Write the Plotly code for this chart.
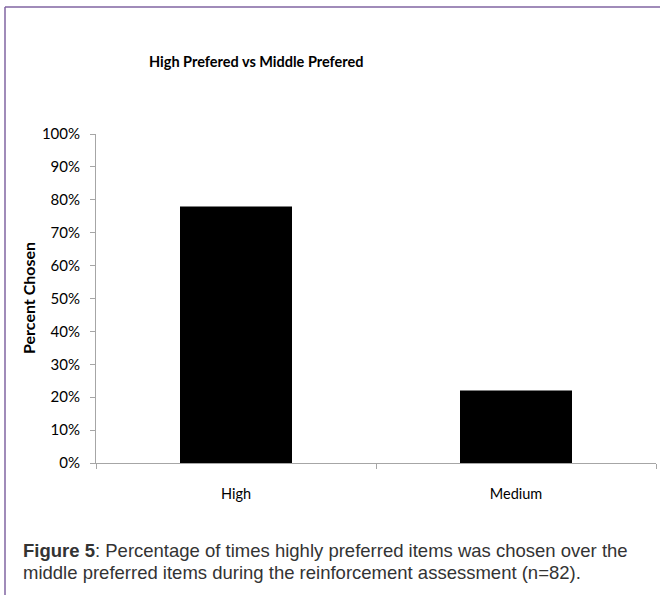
import plotly.graph_objects as go

# Chart data
categories = ["High", "Medium"]
percent_chosen = [0.78, 0.22]
y_tick_values = [0.0, 0.1, 0.2, 0.3, 0.4, 0.5, 0.6, 0.7, 0.8, 0.9, 1.0]
y_tick_labels = ["0%", "10%", "20%", "30%", "40%", "50%", "60%", "70%", "80%", "90%", "100%"]
caption_lines = [
    "<b>Figure 5</b>: Percentage of times highly preferred items was chosen over the",
    "middle preferred items during the reinforcement assessment (n=82).",
]

W, H = 660, 595
L, R, T, B = 96, 4, 134, 132
plot_w = W - L - R
plot_h = H - T - B


def px_x(px):
    """Convert a pixel column to paper x coordinate."""
    return (px - L) / plot_w


def px_y(py):
    """Convert a pixel row (from top) to paper y coordinate."""
    return (H - B - py) / plot_h


axis_grey = "#a6a6a6"
calibri_like = "Lato, 'Open Sans', sans-serif"

fig = go.Figure(
    go.Bar(
        x=categories,
        y=percent_chosen,
        marker=dict(color="black", line=dict(width=0)),
        width=0.4,
        hoverinfo="x+y",
    )
)

fig.update_layout(
    width=W,
    height=H,
    margin=dict(l=L, r=R, t=T, b=B),
    paper_bgcolor="white",
    plot_bgcolor="white",
    showlegend=False,
    font=dict(family=calibri_like, size=14, color="black"),
    xaxis=dict(
        type="category",
        showline=True,
        linecolor=axis_grey,
        linewidth=1,
        ticks="outside",
        tickson="boundaries",
        ticklen=5,
        tickcolor=axis_grey,
        showgrid=False,
        tickfont=dict(family=calibri_like, size=14.5, color="black"),
        ticklabelstandoff=18,
        range=[-0.5, 1.5],
    ),
    yaxis=dict(
        range=[0, 1],
        tickvals=y_tick_values,
        ticktext=y_tick_labels,
        showline=True,
        linecolor=axis_grey,
        linewidth=1,
        ticks="outside",
        ticklen=5,
        tickcolor=axis_grey,
        showgrid=False,
        zeroline=False,
        tickfont=dict(family=calibri_like, size=15, color="black"),
        ticklabelstandoff=7,
    ),
)

# Vertical axis title
fig.add_annotation(
    text="<b>Percent Chosen</b>",
    xref="paper", yref="paper",
    x=px_x(28), y=px_y(298),
    xanchor="center", yanchor="middle",
    textangle=-90,
    showarrow=False,
    font=dict(family=calibri_like, size=16, color="black"),
)

# Chart title
fig.add_annotation(
    text="<b>High Prefered vs Middle Prefered</b>",
    xref="paper", yref="paper",
    x=px_x(256), y=px_y(61),
    xanchor="center", yanchor="middle",
    showarrow=False,
    font=dict(family=calibri_like, size=14.5, color="black"),
)

# Figure caption, one annotation per line
for row, line_text in zip([550, 572], caption_lines):
    fig.add_annotation(
        text=line_text,
        xref="paper", yref="paper",
        x=px_x(21), y=px_y(row),
        xanchor="left", yanchor="middle",
        align="left",
        showarrow=False,
        font=dict(family="'Liberation Sans', Arial, sans-serif", size=18.5, color="#333333"),
    )

# Frame lines along the top and left edges
frame_color = "#8064a2"
fig.add_shape(
    type="line", xref="paper", yref="paper",
    x0=px_x(5), x1=px_x(W + 2), y0=px_y(7), y1=px_y(7),
    line=dict(color=frame_color, width=1.5),
)
fig.add_shape(
    type="line", xref="paper", yref="paper",
    x0=px_x(5), x1=px_x(5), y0=px_y(7), y1=px_y(H + 2),
    line=dict(color=frame_color, width=1.5),
)

fig.write_html("out.html")
